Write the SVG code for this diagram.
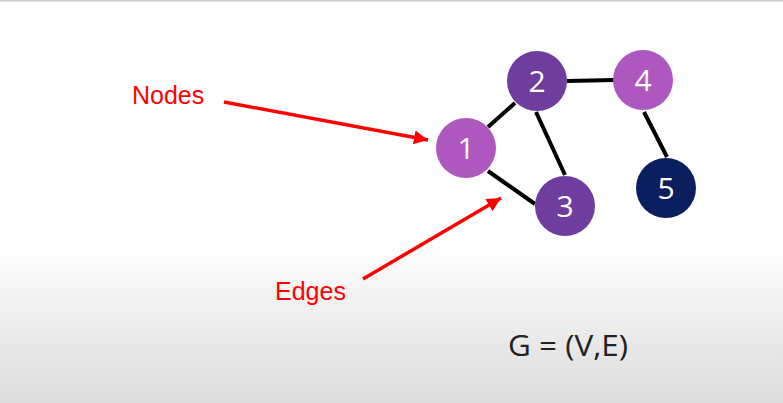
<svg xmlns="http://www.w3.org/2000/svg" width="783" height="403" viewBox="0 0 783 403">
  <defs>
    <linearGradient id="bg" x1="0" y1="0" x2="0" y2="1">
      <stop offset="0" stop-color="#ffffff"/>
      <stop offset="0.6" stop-color="#ffffff"/>
      <stop offset="1" stop-color="#dcdcdc"/>
    </linearGradient>
    <marker id="ah" viewBox="0 0 10 10" refX="10" refY="5" markerWidth="4.5" markerHeight="4" markerUnits="strokeWidth" orient="auto">
      <path d="M0,0 L10,5 L0,10 z" fill="#ff0000"/>
    </marker>
    <style>
      .edge { stroke: #000; stroke-width: 4; }
      .ptr { stroke: #ff0000; stroke-width: 3.5; fill: none; }
      .lbl { font-family: "Open Sans", "Liberation Sans", sans-serif; font-size: 30px; fill: #fff; text-anchor: middle; }
      .ann { font-family: "Liberation Sans", Arial, sans-serif; font-size: 25px; fill: #ff0000; }
      .light { fill: #ad57bf; }
      .mid { fill: #6f3d9e; }
      .dark { fill: #0b1f5e; }
    </style>
  </defs>
  <rect width="783" height="403" fill="url(#bg)"/>
  <rect width="783" height="1.5" fill="#d0d0d0"/>
  <g id="connectors">
    <line class="edge" x1="488" y1="127" x2="515" y2="103"/>
    <line class="edge" x1="536" y1="112" x2="565" y2="175"/>
    <line class="edge" x1="488" y1="171" x2="535" y2="204"/>
    <line class="edge" x1="567" y1="81" x2="614" y2="80"/>
    <line class="edge" x1="644" y1="112" x2="667" y2="157"/>
    <line class="ptr" x1="224" y1="102" x2="428" y2="140" marker-end="url(#ah)"/>
    <line class="ptr" x1="363" y1="279" x2="501" y2="198" marker-end="url(#ah)"/>
  </g>
  <g id="node1"><circle class="light" cx="466" cy="148" r="30"/><text class="lbl" x="466" y="159">1</text></g>
  <g id="node2"><circle class="mid" cx="537" cy="81" r="30"/><text class="lbl" x="537" y="92">2</text></g>
  <g id="node3"><circle class="mid" cx="565" cy="206" r="30"/><text class="lbl" x="565" y="217">3</text></g>
  <g id="node4"><circle class="light" cx="643" cy="80" r="30"/><text class="lbl" x="643" y="91">4</text></g>
  <g id="node5"><circle class="dark" cx="666" cy="188" r="30"/><text class="lbl" x="666" y="199">5</text></g>
  <text class="ann" x="132" y="104">Nodes</text>
  <text class="ann" x="275" y="300">Edges</text>
  <text x="508" y="356" font-family="Open Sans, Liberation Sans, sans-serif" font-size="29" fill="#222" textLength="120" lengthAdjust="spacingAndGlyphs">G = (V,E)</text>
</svg>
